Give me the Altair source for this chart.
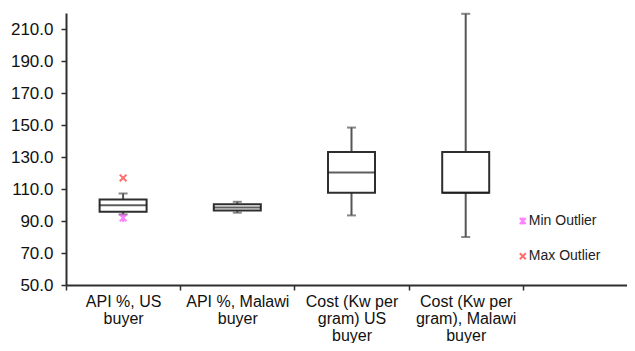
import altair as alt
import pandas as pd

# ---- data ----
categories = [
    "API %, US buyer",
    "API %, Malawi buyer",
    "Cost (Kw per gram) US buyer",
    "Cost (Kw per gram), Malawi buyer",
]
label_lines = [
    ["API %, US", "buyer"],
    ["API %, Malawi", "buyer"],
    ["Cost (Kw per", "gram) US", "buyer"],
    ["Cost (Kw per", "gram), Malawi", "buyer"],
]
whisker_low = [94.1, 95.2, 93.5, 80.0]
q1 = [95.8, 96.6, 107.7, 107.7]
median = [99.9, 98.5, 120.3, 107.7]
q3 = [103.5, 100.4, 133.2, 133.2]
whisker_high = [107.2, 102.0, 148.4, 219.5]
min_outlier = [91.9, None, None, None]
max_outlier = [116.9, None, None, None]
legend_names = ["Min Outlier", "Max Outlier"]
legend_values = [90.0, 68.0]
y_ticks = [50, 70, 90, 110, 130, 150, 170, 190, 210]

SPARE = "spare"
domain = categories + [SPARE]

FONT = "Arial, Liberation Sans, sans-serif"
PINK = "#ff4dff"
RED = "#ff3030"
DARK = "#2e2e2e"

# ---- tables ----
box_df = pd.DataFrame({
    "cat": categories, "lo": whisker_low, "q1": q1, "med": median,
    "q3": q3, "hi": whisker_high,
})
caps_df = pd.concat([
    pd.DataFrame({"cat": categories, "v": whisker_low}),
    pd.DataFrame({"cat": categories, "v": whisker_high}),
])
out_rows = []
for c, mn, mx in zip(categories, min_outlier, max_outlier):
    if mn is not None:
        out_rows.append({"cat": c, "v": mn, "kind": "Min Outlier"})
    if mx is not None:
        out_rows.append({"cat": c, "v": mx, "kind": "Max Outlier"})
out_df = pd.DataFrame(out_rows)
leg_df = pd.DataFrame({"cat": [SPARE] * 2, "v": legend_values, "kind": legend_names})

# label expression with multi-line labels
expr = ""
for c, lines in zip(categories, label_lines):
    arr = "[" + ",".join("'" + s + "'" for s in lines) + "]"
    expr += "datum.value == '" + c + "' ? " + arr + " : "
expr += "''"

xscale = alt.Scale(domain=domain, range=[0, 571], paddingInner=0, paddingOuter=0)
xaxis = alt.Axis(
    labelExpr=expr, labelFontSize=16, labelLineHeight=17, labelFont=FONT,
    labelColor="#111", labelAngle=0, labelPadding=3, labelOverlap=False,
    labelLimit=300, tickBand="extent", tickSize=5, tickColor=DARK,
    tickWidth=1.5, domainWidth=2, domainColor=DARK, grid=False, title=None,
)
yscale = alt.Scale(domain=[50, 220], nice=False, zero=False)
yaxis = alt.Axis(
    values=y_ticks, format=".1f", labelFontSize=17, labelFont=FONT,
    labelColor="#111", tickSize=5, tickColor=DARK, tickWidth=1.5,
    labelPadding=8, domainWidth=2, domainColor=DARK, grid=False, title=None,
)

x_enc = alt.X("cat:N", scale=xscale, axis=xaxis, sort=domain, title=None)
x_leg = alt.X("cat:N", scale=xscale, axis=xaxis, sort=domain, title=None, bandPosition=0)

kind_color = alt.Color("kind:N", scale=alt.Scale(domain=legend_names, range=[PINK, RED]), legend=None)
kind_shape = alt.Shape("kind:N", scale=alt.Scale(
    domain=legend_names,
    range=["M-1,-1L1,1M-1,1L1,-1M0,-1.2L0,1.2", "M-1,-1L1,1M-1,1L1,-1"]), legend=None)

whiskers = alt.Chart(box_df).mark_rule(color="#555", strokeWidth=2).encode(
    x=x_enc, y=alt.Y("lo:Q", scale=yscale, axis=yaxis), y2="hi:Q")
caps = alt.Chart(caps_df).mark_tick(color="#555", size=9, thickness=2).encode(
    x=x_enc, y=alt.Y("v:Q", scale=yscale, axis=yaxis))
boxes = alt.Chart(box_df).mark_bar(size=47, fill="white", stroke=DARK, strokeWidth=2).encode(
    x=x_enc, y=alt.Y("q1:Q", scale=yscale, axis=yaxis), y2="q3:Q")
meds = alt.Chart(box_df).mark_tick(size=47, thickness=2, color="#1a1a1a").encode(
    x=x_enc, y=alt.Y("med:Q", scale=yscale, axis=yaxis))
outs = alt.Chart(out_df).mark_point(filled=False, size=45, strokeWidth=2).encode(
    x=x_enc, y=alt.Y("v:Q", scale=yscale, axis=yaxis), color=kind_color, shape=kind_shape)
leg_pts = alt.Chart(leg_df).mark_point(filled=False, size=36, strokeWidth=2).encode(
    x=x_leg, y=alt.Y("v:Q", scale=yscale, axis=yaxis), color=kind_color, shape=kind_shape)
leg_txt = alt.Chart(leg_df).mark_text(align="left", dx=6, fontSize=14, font=FONT, color="#222").encode(
    x=x_leg, y=alt.Y("v:Q", scale=yscale, axis=yaxis), text="kind:N")

chart = alt.layer(whiskers, caps, boxes, meds, outs, leg_pts, leg_txt).properties(
    width=561, height=272,
    autosize=alt.AutoSizeParams(type="none"),
    padding={"left": 58, "top": 5, "right": 0, "bottom": 58},
).configure_view(stroke=None)

chart.save("out.html", embed_options={"renderer": "svg", "actions": False})
